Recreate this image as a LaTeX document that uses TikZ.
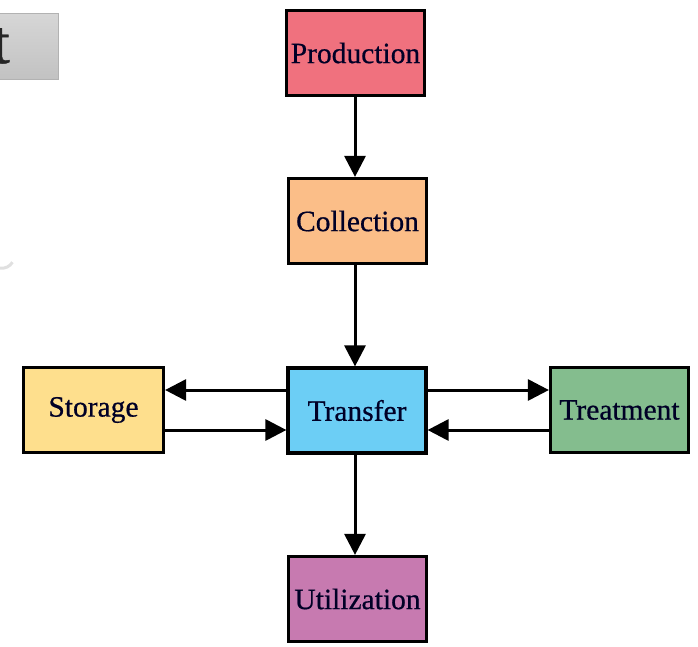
\documentclass[tikz,border=0pt]{standalone}
\usepackage{fontspec}
\setmainfont{Liberation Serif}[FakeBold=0.6]
\usetikzlibrary{arrows.meta}
\definecolor{cprod}{HTML}{F0717E}
\definecolor{ccoll}{HTML}{FBBE88}
\definecolor{ctrans}{HTML}{6CCEF5}
\definecolor{cstor}{HTML}{FEDF8D}
\definecolor{ctreat}{HTML}{84BD8E}
\definecolor{cutil}{HTML}{C77AB0}
\tikzset{
  stage/.style={draw=black, line width=3.2pt, minimum width=138pt, minimum height=85pt,
    inner sep=0pt, font=\fontsize{29.5}{32}\selectfont, text=black!85!blue},
  flow/.style={line width=3pt, -{Triangle[length=21pt,width=21pt]}},
}
\begin{document}
\begin{tikzpicture}[x=1pt,y=-1pt]
\useasboundingbox (0,0) rectangle (698,646);
\begin{scope}
\clip (0,0) rectangle (698,646);
% screenshot fragment at top-left
\node[draw=black!30, top color=black!16, bottom color=black!24, line width=1pt,
  minimum width=70pt, minimum height=66pt, inner sep=0pt, anchor=north west] (tab) at (-12,13) {};
\node[font=\fontsize{62}{66}\selectfont, text=black!85, anchor=east, inner sep=0pt] (tabtxt) at (10,46) {t};
\draw[black!12, line width=3pt] (0,268) arc[start angle=-100, end angle=-30, radius=12pt];
\end{scope}
\node[stage, fill=cprod]  (prod)  at (355.5,53)  {Production};
\node[stage, fill=ccoll]  (coll)  at (357.5,221) {Collection};
\node[stage, fill=ctrans] (trans) at (357,410.5) {Transfer};
\node[stage, fill=cstor, minimum width=140pt]  (stor)  at (93.5,410) {Storage};
\node[stage, fill=ctreat] (treat) at (619.5,410) {Treatment};
\node[stage, fill=cutil]  (util)  at (357.5,599) {Utilization};
\draw[flow] (prod.south -| 355,0) -- (coll.north -| 355,0);
\draw[flow] (coll.south -| 355,0) -- (trans.north -| 355,0);
\draw[flow] (trans.south -| 355,0) -- (util.north -| 355,0);
\draw[flow] (trans.west |- 0,390) -- (stor.east |- 0,390);
\draw[flow] (stor.east |- 0,430) -- (trans.west |- 0,430);
\draw[flow] (trans.east |- 0,390) -- (treat.west |- 0,390);
\draw[flow] (treat.west |- 0,430) -- (trans.east |- 0,430);
\end{tikzpicture}
\end{document}
